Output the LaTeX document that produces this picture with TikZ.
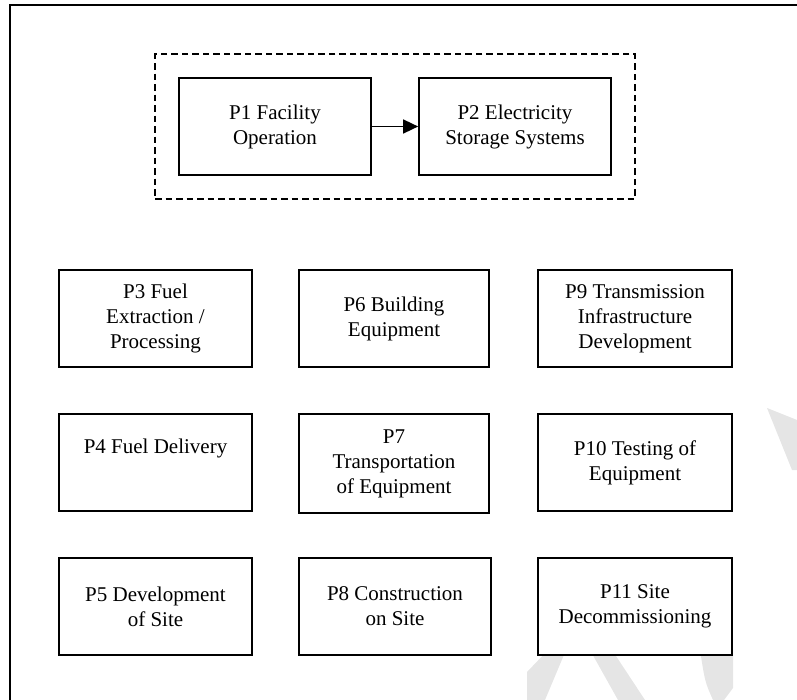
\documentclass[tikz,border=0pt]{standalone}
\usepackage{fontspec}
\setmainfont{Liberation Serif}
\usetikzlibrary{fit,arrows.meta}
\begin{document}
\begin{tikzpicture}[x=1bp,y=-1bp,
  pbox/.style={draw, line width=1.7bp, fill=white, minimum width=193bp, minimum height=97bp,
    align=center, inner sep=0pt, font=\fontsize{21bp}{25bp}\selectfont},
  grpbox/.style={draw, line width=1.7bp, dash pattern=on 6.5bp off 4bp, inner sep=23bp},
  flow/.style={line width=1.6bp, -{Triangle[length=15bp,width=14bp]}},
  frame/.style={line width=1.8bp},
  wmark/.style={fill=black!10, draw=none}]
\useasboundingbox (0,0) rectangle (797,700);
% watermark fragments
\fill[wmark] (767,408) -- (797,420) -- (797,470) -- (792,470) -- cycle;
\fill[wmark] (527,672) -- (548,650) -- (566,650) -- (545,700) -- (527,700) -- cycle;
\fill[wmark] (590,650) -- (612,650) -- (645,700) -- (618,700) -- cycle;
\fill[wmark] (700,650) -- (733,650) -- (733,688) -- (724,700) -- (713,700) .. controls (705,682) .. (700,650) -- cycle;
% frame
\coordinate (ftr) at (797,5);
\coordinate (ftl) at (10,5);
\coordinate (fbl) at (10,700);
\draw[frame] (ftr) -- (ftl) -- (fbl);
% top group
\node[pbox, minimum width=192bp] (p1) at (275,126.5) {P1 Facility\\Operation};
\node[pbox, minimum width=192bp] (p2) at (515,126.5) {P2 Electricity\\Storage Systems};
\draw[flow] (p1.east) -- (p2.west);
\node[grpbox, fit=(p1)(p2)] (grp) {};
% grid of phases
\node[pbox] (p3) at (155.5,318.5) {P3 Fuel\\Extraction /\\Processing};
\node[pbox, minimum width=190bp] (p6) at (394,318.5) {P6 Building\\Equipment};
\node[pbox, minimum width=194bp] (p9) at (635,318.5) {P9 Transmission\\Infrastructure\\Development};
\node[pbox] (p4) at (155.5,462.5) {P4 Fuel Delivery\\[0pt]\strut};
\node[pbox, minimum width=190bp, minimum height=99bp] (p7) at (394,463.5) {P7\\Transportation\\of Equipment};
\node[pbox, minimum width=194bp] (p10) at (635,462.5) {P10 Testing of\\Equipment};
\node[pbox] (p5) at (155.5,606.5) {P5 Development\\of Site};
\node[pbox, minimum width=192bp] (p8) at (395,606.5) {P8 Construction\\on Site};
\node[pbox, minimum width=194bp] (p11) at (635,606.5) {P11 Site\\Decommissioning};
\end{tikzpicture}
\end{document}
